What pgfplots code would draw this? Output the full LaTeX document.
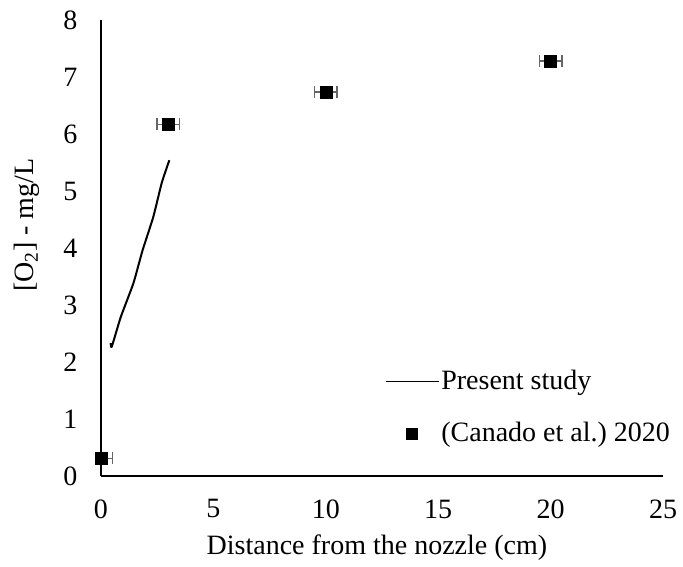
\documentclass[border=0pt]{standalone}
\usepackage{pgfplots}
\pgfplotsset{compat=1.18}
\usepackage{fontspec}
\setmainfont{Liberation Serif}

\begin{document}
\frenchspacing
\fontsize{28}{34}\selectfont
\begin{tikzpicture}
\useasboundingbox (-101pt,-90pt) rectangle (582pt,476pt);
\begin{axis}[
  at={(0pt,0pt)}, anchor=south west,
  scale only axis, width=562pt, height=456pt,
  xmin=0, xmax=25, ymin=0, ymax=8,
  axis lines=left,
  axis line style={line width=1.5pt, -},
  xtick={0,5,...,25}, ytick={0,1,...,8},
  major tick length=0pt,
  tick label style={font=\fontsize{28}{34}\selectfont},
  /pgf/number format/assume math mode=true,
  xticklabel style={yshift=-14pt},
  yticklabel style={xshift=-14pt},
  xlabel={Distance from the nozzle (cm)},
  ylabel={[O\textsubscript{2}] - mg/L},
  label style={font=\fontsize{28}{34}\selectfont},
  xlabel style={at={(axis description cs:0.491,-0.156)}, anchor=center},
  ylabel style={at={(axis description cs:-0.132,0.55)}, anchor=center},
  legend style={at={(axis cs:12.63,1.2)}, anchor=west, draw=none, fill=none,
    font=\fontsize{28}{34}\selectfont, row sep=24pt, inner sep=0pt},
  legend cell align=left,
]
% present study
\addplot[black, line width=2pt, line join=round, smooth, tension=0.3,
  legend image code/.code={\draw[black, line width=1.2pt] (0pt,0pt) -- (53pt,0pt);}]
  coordinates {(0.43,2.33) (0.48,2.27) (0.88,2.79) (1.44,3.38) (1.85,3.96)
               (2.33,4.55) (2.70,5.14) (3.04,5.54)};
\addlegendentry{Present study}

% Canado et al. 2020
\addplot[only marks, mark=square*, mark size=6pt, black,
  error bars/.cd, x dir=both, x explicit,
  error bar style={black!60, line width=1.4pt},
  error mark options={black!60, rotate=90, mark size=6pt, line width=1.4pt},
  /pgfplots/legend image code/.code={\fill[black] (20.5pt,-5.5pt) rectangle (31.5pt,5.5pt);}]
  coordinates {(0,0.31) +- (0.5,0) (3,6.17) +- (0.5,0) (10,6.74) +- (0.5,0) (20,7.28) +- (0.5,0)};
\addlegendentry{(Canado et al.) 2020}
\end{axis}
\end{tikzpicture}
\end{document}
